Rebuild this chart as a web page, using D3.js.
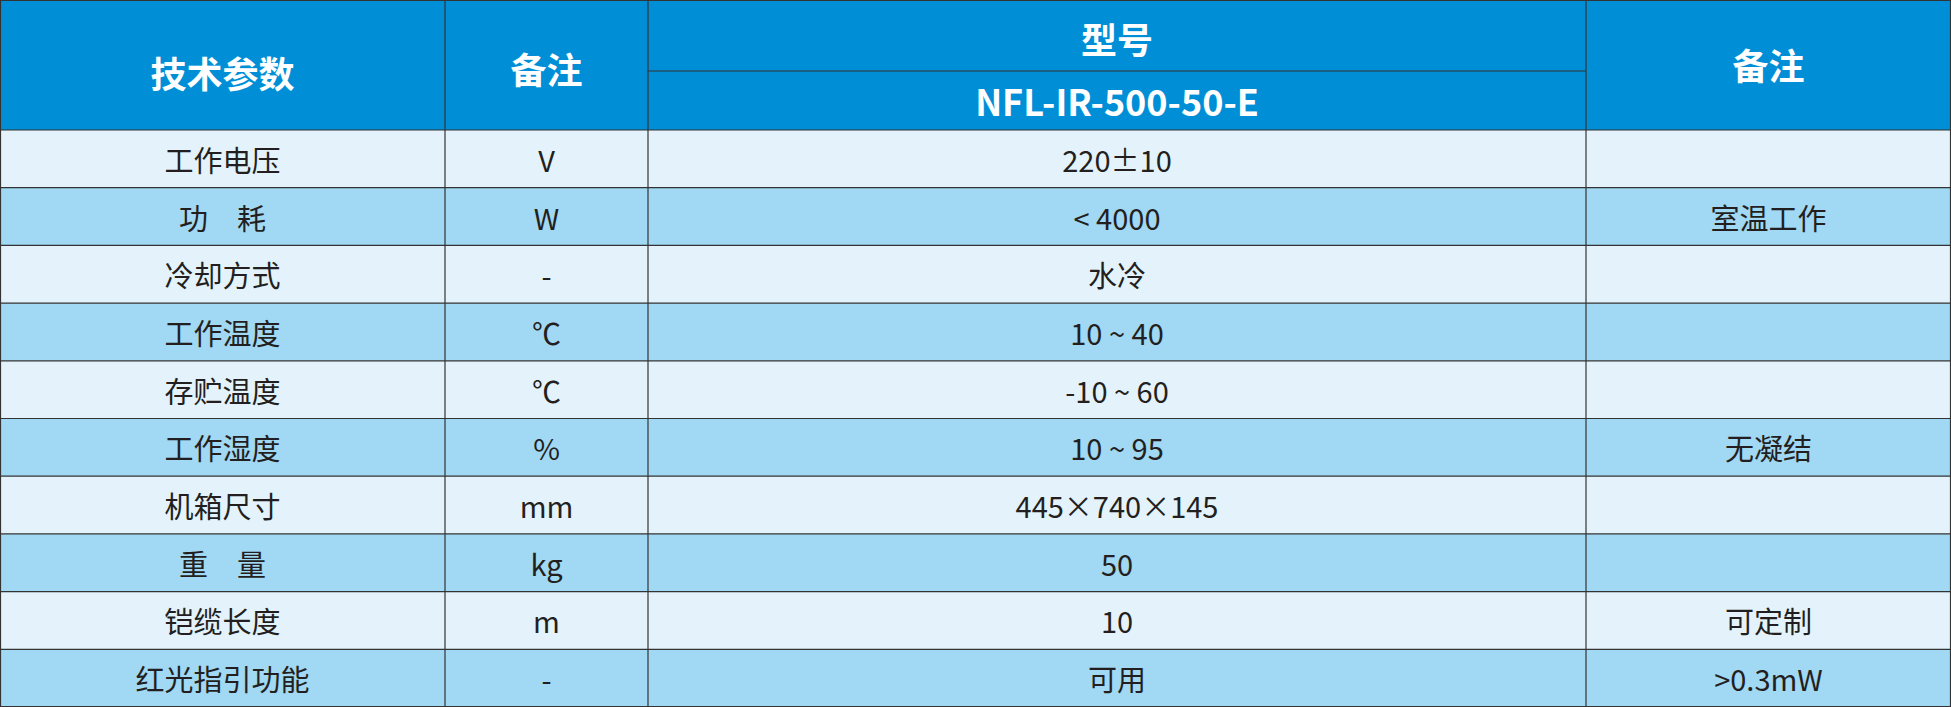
<!DOCTYPE html><html><head><meta charset="utf-8"><script src="https://cdn.jsdelivr.net/npm/d3@7"></script>
<style>body{margin:0;background:#fff}</style></head><body><svg id="c" width="1951" height="707"></svg>
<script>
const params=["工作电压","功　耗","冷却方式","工作温度","存贮温度","工作湿度","机箱尺寸","重　量","铠缆长度","红光指引功能"];
const units=["V","W","-","℃","℃","%","mm","kg","m","-"];
const values=["220±10","< 4000","水冷","10 ~ 40","-10 ~ 60","10 ~ 95","445×740×145","50","10","可用"];
const notes=["","室温工作","","","","无凝结","","","可定制",">0.3mW"];
const headers=["技术参数","备注","型号","备注"];
const model="NFL-IR-500-50-E";
const svg=d3.select("#c");
const W=1951,H=707,HH=130;
const cols=[0,445,648,1586,1951];
const y=d3.scaleBand().domain(d3.range(params.length)).range([HH,H]);
const font="'Noto Sans CJK SC','Noto Sans',sans-serif";
// header
svg.append("rect").attr("x",0).attr("y",0).attr("width",W).attr("height",HH).attr("fill","#008fd7");
const rows=params.map((p,i)=>[p,units[i],values[i],notes[i]]);
svg.selectAll("rect.r").data(rows).enter().append("rect").attr("x",0).attr("y",(d,i)=>y(i)).attr("width",W).attr("height",y.bandwidth()).attr("fill",(d,i)=>i%2?"#a1d8f3":"#e4f3fb");
const st="#333";
// lines
svg.append("line").attr("x1",cols[2]).attr("x2",cols[3]).attr("y1",71).attr("y2",71).attr("stroke",st).attr("stroke-width",1.2);
d3.range(params.length+1).forEach(i=>{const yy=i<params.length?y(i):H-0.5;svg.append("line").attr("x1",0).attr("x2",W).attr("y1",yy).attr("y2",yy).attr("stroke",st).attr("stroke-width",1.2);});
cols.forEach(x=>{const xx=Math.min(Math.max(x,0.5),W-0.5);svg.append("line").attr("x1",xx).attr("x2",xx).attr("y1",0).attr("y2",H).attr("stroke",st).attr("stroke-width",1.2);});
svg.append("line").attr("x1",0).attr("x2",W).attr("y1",0.5).attr("y2",0.5).attr("stroke",st);
const hdr=(t,cx,cy)=>svg.append("text").attr("x",cx).attr("y",cy).attr("text-anchor","middle").attr("dominant-baseline","central").attr("fill","#fff").attr("font-weight","bold").attr("font-size",36).attr("font-family",font).text(t);
hdr(headers[0],(cols[0]+cols[1])/2,72);
hdr(headers[1],(cols[1]+cols[2])/2,68);
hdr(headers[2],(cols[2]+cols[3])/2,38);
hdr(model,(cols[2]+cols[3])/2,100);
hdr(headers[3],(cols[3]+cols[4])/2,64);
rows.forEach((r,i)=>r.forEach((t,j)=>{svg.append("text").attr("x",(cols[j]+cols[j+1])/2).attr("y",y(i)+y.bandwidth()/2).attr("text-anchor","middle").attr("dominant-baseline","central").attr("fill","#231f20").attr("font-size",29).attr("font-family",font).text(t);}));
</script></body></html>
